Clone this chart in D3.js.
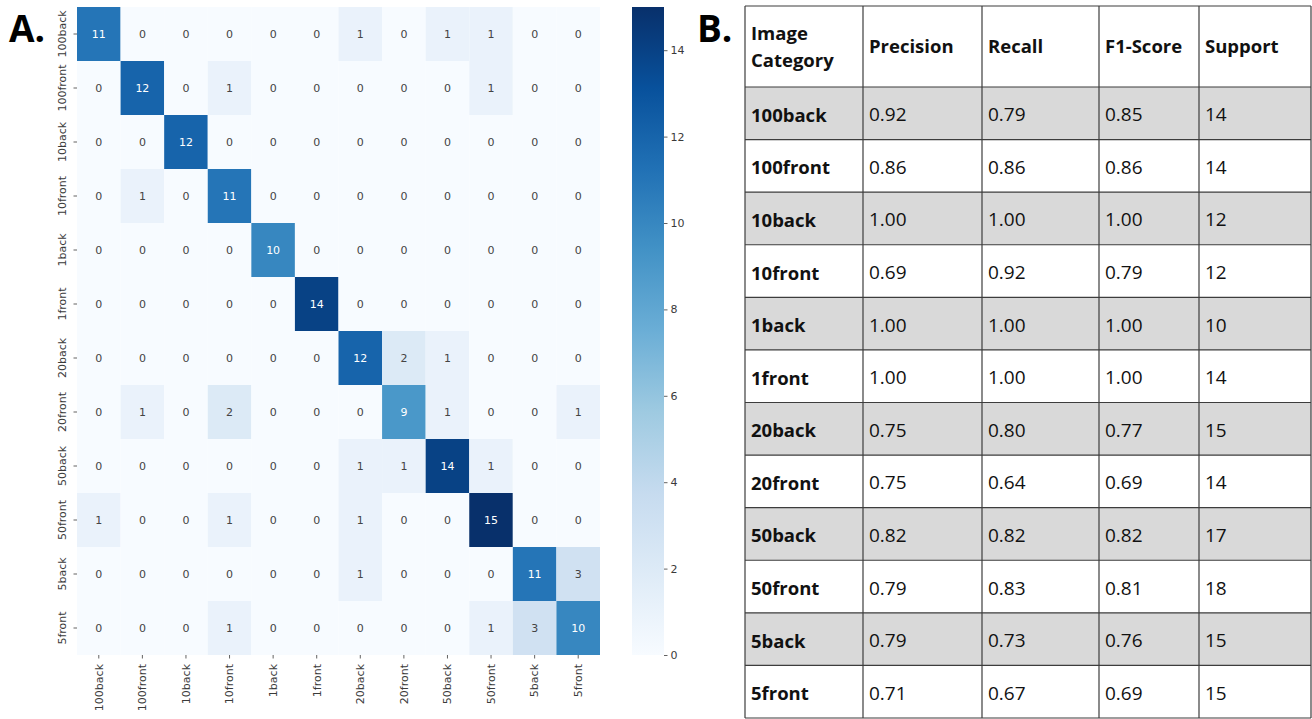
<!DOCTYPE html>
<html>
<head>
<meta charset="utf-8">
<script src="https://cdn.jsdelivr.net/npm/d3@7"></script>
<style>
  body { margin: 0; background: #fff; }
  svg { display: block; }
</style>
</head>
<body>
<svg id="chart"></svg>
<script>
// confusion matrix labels and counts
const classes = ["100back", "100front", "10back", "10front", "1back", "1front",
  "20back", "20front", "50back", "50front", "5back", "5front"];
const matrix = [
  [11, 0, 0, 0, 0, 0, 1, 0, 1, 1, 0, 0],
  [0, 12, 0, 1, 0, 0, 0, 0, 0, 1, 0, 0],
  [0, 0, 12, 0, 0, 0, 0, 0, 0, 0, 0, 0],
  [0, 1, 0, 11, 0, 0, 0, 0, 0, 0, 0, 0],
  [0, 0, 0, 0, 10, 0, 0, 0, 0, 0, 0, 0],
  [0, 0, 0, 0, 0, 14, 0, 0, 0, 0, 0, 0],
  [0, 0, 0, 0, 0, 0, 12, 2, 1, 0, 0, 0],
  [0, 1, 0, 2, 0, 0, 0, 9, 1, 0, 0, 1],
  [0, 0, 0, 0, 0, 0, 1, 1, 14, 1, 0, 0],
  [1, 0, 0, 1, 0, 0, 1, 0, 0, 15, 0, 0],
  [0, 0, 0, 0, 0, 0, 1, 0, 0, 0, 11, 3],
  [0, 0, 0, 1, 0, 0, 0, 0, 0, 1, 3, 10]
];
const colorbarTicks = [0, 2, 4, 6, 8, 10, 12, 14];

// classification report
const headers = ["Image\nCategory", "Precision", "Recall", "F1-Score", "Support"];
const precision = ["0.92", "0.86", "1.00", "0.69", "1.00", "1.00", "0.75", "0.75", "0.82", "0.79", "0.79", "0.71"];
const recall = ["0.79", "0.86", "1.00", "0.92", "1.00", "1.00", "0.80", "0.64", "0.82", "0.83", "0.73", "0.67"];
const f1 = ["0.85", "0.86", "1.00", "0.79", "1.00", "1.00", "0.77", "0.69", "0.82", "0.81", "0.76", "0.69"];
const support = [14, 14, 12, 12, 10, 14, 15, 14, 17, 18, 15, 15];

const W = 1312, H = 719;
const svg = d3.select('#chart').attr('width', W).attr('height', H);

// matplotlib "Blues"
const blues = ["#f7fbff", "#deebf7", "#c6dbef", "#9ecae1", "#6baed6", "#4292c6", "#2171b5", "#08519c", "#08306b"];
const vmax = 15;
const color = d3.scaleLinear()
  .domain(blues.map((_, i) => i * vmax / (blues.length - 1)))
  .range(blues)
  .interpolate(d3.interpolateRgb);

const lum = c => {
  const rgb = d3.rgb(c);
  const f = v => { v /= 255; return v <= 0.03928 ? v / 12.92 : Math.pow((v + 0.055) / 1.055, 2.4); };
  return 0.2126 * f(rgb.r) + 0.7152 * f(rgb.g) + 0.0722 * f(rgb.b);
};

const hm = { left: 77, top: 7, right: 600, bottom: 655 };
const xScale = d3.scaleBand().domain(classes).range([hm.left, hm.right]);
const yScale = d3.scaleBand().domain(classes).range([hm.top, hm.bottom]);

const cells = [];
matrix.forEach((row, i) => row.forEach((v, j) => cells.push({ r: classes[i], c: classes[j], v })));

const gHeat = svg.append('g');
gHeat.selectAll('rect').data(cells).enter().append('rect')
  .attr('x', d => xScale(d.c))
  .attr('y', d => yScale(d.r))
  .attr('width', xScale.bandwidth())
  .attr('height', yScale.bandwidth())
  .attr('fill', d => color(d.v));

gHeat.selectAll('text').data(cells).enter().append('text')
  .attr('x', d => xScale(d.c) + xScale.bandwidth() / 2)
  .attr('y', d => yScale(d.r) + yScale.bandwidth() / 2)
  .attr('text-anchor', 'middle')
  .attr('dominant-baseline', 'central')
  .style('font-family', 'DejaVu Sans, sans-serif')
  .style('font-size', '11px')
  .attr('fill', d => lum(color(d.v)) > 0.408 ? '#444444' : '#ffffff')
  .text(d => d.v);

// axes
const tickColor = '#3a3a3a';
const yAxis = svg.append('g').attr('transform', `translate(${hm.left},0)`)
  .call(d3.axisLeft(yScale).tickSize(3.5).tickPadding(3));
yAxis.select('.domain').remove();
yAxis.selectAll('.tick').attr('transform', null);
yAxis.selectAll('.tick line')
  .attr('stroke', tickColor).attr('stroke-width', 0.8)
  .attr('y1', d => yScale(d) + yScale.bandwidth() / 2)
  .attr('y2', d => yScale(d) + yScale.bandwidth() / 2)
  .attr('x2', -3.5);
yAxis.selectAll('.tick text')
  .attr('transform', d => `translate(-11,${yScale(d) + yScale.bandwidth() / 2}) rotate(-90)`)
  .attr('x', 0).attr('y', 0).attr('dy', 0)
  .style('text-anchor', 'middle')
  .style('font-family', 'DejaVu Sans, sans-serif')
  .style('font-size', '11px')
  .attr('fill', tickColor);

const xAxis = svg.append('g').attr('transform', `translate(0,${hm.bottom})`)
  .call(d3.axisBottom(xScale).tickSize(3.5).tickPadding(3));
xAxis.select('.domain').remove();
xAxis.selectAll('line').attr('stroke', tickColor).attr('stroke-width', 0.8);
xAxis.selectAll('text')
  .attr('transform', 'translate(0,9) rotate(-90)')
  .attr('x', 0).attr('y', 0).attr('dy', '0.35em')
  .style('text-anchor', 'end')
  .style('font-family', 'DejaVu Sans, sans-serif')
  .style('font-size', '11px')
  .attr('fill', tickColor);

// colorbar
const cb = { left: 632, right: 664 };
const cScale = d3.scaleLinear().domain([0, vmax]).range([hm.bottom, hm.top]);
const grad = svg.append('defs').append('linearGradient')
  .attr('id', 'cbGrad').attr('x1', 0).attr('y1', 1).attr('x2', 0).attr('y2', 0);
color.domain().forEach((v, i) => {
  grad.append('stop').attr('offset', v / vmax).attr('stop-color', blues[i]);
});
svg.append('rect')
  .attr('x', cb.left).attr('y', cScale(vmax))
  .attr('width', cb.right - cb.left).attr('height', cScale(0) - cScale(vmax))
  .attr('fill', 'url(#cbGrad)');
const cAxis = svg.append('g').attr('transform', `translate(${cb.right},0)`)
  .call(d3.axisRight(cScale).tickValues(colorbarTicks).tickSize(3.5).tickPadding(3));
cAxis.select('.domain').remove();
cAxis.selectAll('line').attr('stroke', tickColor).attr('stroke-width', 0.8);
cAxis.selectAll('text')
  .style('font-family', 'DejaVu Sans, sans-serif')
  .style('font-size', '11px')
  .attr('fill', tickColor);

// panel labels
svg.append('text').attr('x', 9).attr('y', 42).text('A.')
  .style('font-family', 'Open Sans, sans-serif').style('font-weight', 700).style('font-size', '37px');
svg.append('text').attr('x', 697).attr('y', 42).text('B.')
  .style('font-family', 'Open Sans, sans-serif').style('font-weight', 700).style('font-size', '37px');

// table
const colX = [745, 863, 982, 1099, 1199, 1311];
const tableTop = 6, headerBottom = 87, tableBottom = 718;
const rowY = d3.scaleBand().domain(classes).range([headerBottom, tableBottom]);
const gTab = svg.append('g');
const tableFont = 'Open Sans, sans-serif';

gTab.selectAll('rect.shade').data(classes.filter((_, i) => i % 2 === 0)).enter().append('rect')
  .attr('class', 'shade')
  .attr('x', colX[0]).attr('width', colX[5] - colX[0])
  .attr('y', d => rowY(d)).attr('height', rowY.bandwidth())
  .attr('fill', '#d9d9d9');

// header text
headers.forEach((h, k) => {
  const lines = h.split('\n');
  const t = gTab.append('text')
    .attr('x', colX[k] + 6)
    .style('font-family', tableFont).style('font-weight', 700).style('font-size', '18.5px')
    .attr('fill', '#111');
  const mid = (tableTop + headerBottom) / 2;
  lines.forEach((ln, li) => {
    t.append('tspan').attr('x', colX[k] + 6)
      .attr('y', mid + (li - (lines.length - 1) / 2) * 27 - 1)
      .attr('dominant-baseline', 'central')
      .text(ln);
  });
});

const tableRows = classes.map((c, i) => [c, precision[i], recall[i], f1[i], support[i]]);
tableRows.forEach((row, i) => {
  row.forEach((v, k) => {
    gTab.append('text')
      .attr('x', colX[k] + 6)
      .attr('y', rowY(classes[i]) + rowY.bandwidth() / 2 + 1)
      .attr('dominant-baseline', 'central')
      .style('font-family', tableFont)
      .style('font-weight', k === 0 ? 700 : 400)
      .style('font-size', k === 0 ? '18.5px' : '19px')
      .attr('fill', '#111')
      .text(v);
  });
});

// grid lines
const lineColor = '#3d3d3d';
const hLines = [tableTop, headerBottom].concat(classes.slice(1).map(c => rowY(c)), [tableBottom]);
gTab.selectAll('line.h').data(hLines).enter().append('line')
  .attr('x1', colX[0]).attr('x2', colX[5])
  .attr('y1', d => d).attr('y2', d => d)
  .attr('stroke', lineColor).attr('stroke-width', 1.2);
gTab.selectAll('line.v').data(colX).enter().append('line')
  .attr('x1', d => d).attr('x2', d => d)
  .attr('y1', tableTop).attr('y2', tableBottom)
  .attr('stroke', lineColor).attr('stroke-width', 1.2);
</script>
</body>
</html>
